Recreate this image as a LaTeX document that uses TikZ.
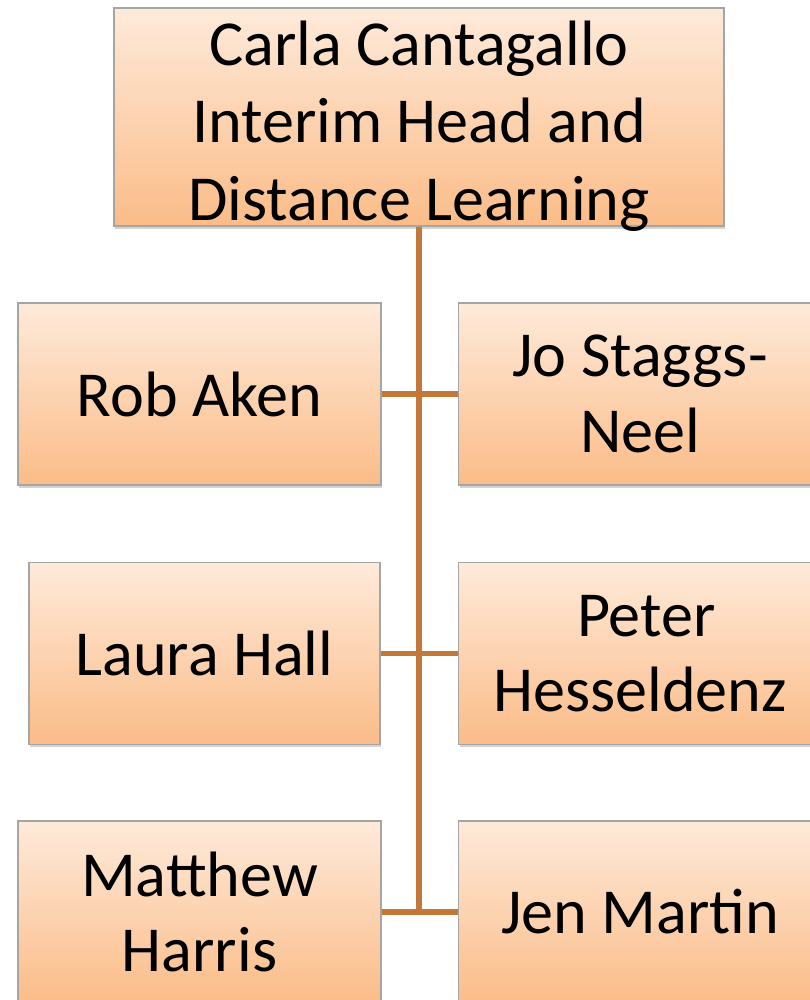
\documentclass[tikz,border=0pt]{standalone}
\usepackage{fontspec}
\setmainfont{Carlito}
\usepackage{tikz}
\usetikzlibrary{positioning, shadows, calc}

\definecolor{peachtop}{RGB}{254,234,218}
\definecolor{peachbot}{RGB}{251,188,136}
\definecolor{trunk}{RGB}{194,120,56}
\definecolor{boxline}{RGB}{165,165,165}

\begin{document}
\begin{tikzpicture}[
  orgbox/.style={rectangle, draw=boxline, line width=0.6pt,
                 top color=peachtop, bottom color=peachbot,
                 drop shadow={shadow xshift=0.6pt, shadow yshift=-1.6pt, opacity=0.35},
                 align=center, inner sep=0pt,
                 font=\fontsize{36.5pt}{43pt}\selectfont},
  headbox/.style={orgbox, minimum width=12.2cm, minimum height=4.36cm,
                  text height=119pt, text depth=1.6pt,
                  font=\fontsize{36.5pt}{44pt}\selectfont},
  staffbox/.style={orgbox, minimum width=7.26cm, minimum height=3.64cm},
  conn/.style={draw=trunk, line width=3.4pt}
]
\useasboundingbox (0,0) rectangle (16.2,20);

%% ---- Head ----
\node[headbox] (head) at (8.38, 17.66)
  {Carla Cantagallo\\Interim Head and\\Distance Learning};

%% ---- Left column ----
\node[staffbox] (aken)   at (3.99, 12.12) {Rob Aken};
\node[staffbox, minimum width=7.02cm] (hall) at (4.09, 6.93) {Laura Hall};
\node[staffbox] (harris) at (3.99, 1.76) {Matthew\\Harris};

%% ---- Right column ----
\node[staffbox] (staggs)     at (12.80, 12.12) {Jo Staggs-\\Neel};
\node[staffbox] (hesseldenz) at (12.80, 6.93) {\hspace*{0.25cm}Peter\\Hesseldenz};
\node[staffbox] (martin)     at (12.80, 1.76) {Jen Martin};

%% ---- Connectors ----
\draw[conn] (head.south) -- (head.south |- harris.east);
\draw[conn] (aken.east)   -- (staggs.west);
\draw[conn] (hall.east)   -- (hesseldenz.west);
\draw[conn] (harris.east) -- (martin.west);

\end{tikzpicture}
\end{document}
